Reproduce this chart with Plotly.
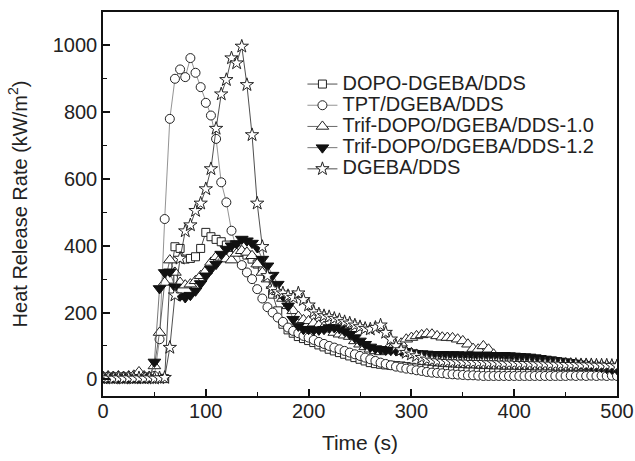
import plotly.graph_objects as go

time_s = list(range(0, 505, 5))

dopo_dgeba = [
    2, 3, 2, 3, 2, 3, 2, 3, 2, 3,
    2, 3, 2, 300, 397, 392, 360, 362, 367, 392,
    440, 427, 419, 412, 402, 395, 388, 380, 372, 360,
    345, 330, 305, 255, 205, 165, 148, 138, 128, 122,
    116, 110, 103, 97, 90, 85, 80, 75, 70, 65,
    60, 55, 50, 47, 45, 43, 42, 41, 40, 38,
    36, 34, 32, 31, 30, 28, 27, 26, 25, 24,
    23, 22, 22, 21, 20, 20, 19, 19, 18, 18,
    18, 17, 17, 17, 16, 16, 16, 16, 15, 15,
    15, 15, 15, 15, 15, 15, 15, 15, 15, 15,
    15]

tpt_dgeba = [
    8, 7, 8, 7, 8, 7, 8, 7, 8, 7,
    10, 120, 480, 780, 900, 928, 905, 962, 918, 875,
    828, 790, 720, 590, 530, 445, 390, 342, 320, 300,
    270, 242, 216, 200, 185, 172, 155, 145, 138, 130,
    125, 118, 112, 106, 100, 95, 90, 85, 80, 75,
    70, 65, 60, 55, 50, 46, 42, 38, 35, 32,
    30, 27, 25, 22, 20, 19, 18, 16, 15, 14,
    13, 12, 12, 11, 10, 10, 10, 10, 10, 10,
    10, 10, 10, 10, 10, 10, 10, 10, 10, 10,
    10, 11, 10, 11, 10, 11, 10, 11, 10, 11,
    10]

trif_10 = [
    8, 10, 8, 10, 8, 10, 12, 22, 10, 8,
    40, 140, 290, 357, 320, 290, 282, 285, 295, 310,
    325, 350, 367, 365, 360, 357, 377, 385, 380, 370,
    345, 320, 300, 280, 262, 242, 220, 205, 188, 178,
    175, 168, 162, 158, 150, 140, 135, 132, 128, 115,
    105, 97, 90, 85, 82, 85, 90, 95, 108, 120,
    125, 130, 133, 136, 135, 130, 126, 125, 124, 120,
    115, 105, 92, 90, 100, 90, 75, 65, 58, 55,
    52, 52, 51, 50, 50, 49, 49, 48, 48, 47,
    47, 46, 46, 45, 45, 44, 43, 42, 42, 41,
    40]

trif_12 = [
    5, 4, 5, 4, 5, 4, 5, 4, 5, 5,
    52, 272, 320, 322, 277, 250, 245, 252, 265, 287,
    310, 330, 345, 375, 390, 400, 407, 420, 415, 408,
    395, 360, 340, 312, 285, 250, 220, 180, 160, 150,
    150, 148, 148, 150, 155, 155, 152, 145, 135, 125,
    115, 105, 97, 92, 90, 88, 87, 86, 85, 84,
    80, 78, 77, 76, 75, 75, 75, 74, 74, 74,
    73, 73, 72, 72, 72, 72, 72, 72, 72, 71,
    70, 69, 68, 67, 65, 63, 61, 59, 57, 55,
    53, 51, 49, 46, 44, 41, 39, 36, 33, 31,
    30]

dgeba_dds = [
    3, 4, 3, 4, 3, 4, 3, 4, 3, 4,
    3, 4, 5, 95, 252, 362, 444, 462, 505, 527,
    570, 630, 751, 854, 897, 962, 947, 997, 882, 732,
    527, 397, 310, 270, 262, 258, 250, 245, 258, 238,
    222, 202, 195, 190, 187, 182, 178, 172, 168, 162,
    157, 152, 150, 155, 162, 140, 120, 100, 88, 80,
    75, 70, 65, 60, 57, 55, 54, 53, 52, 52,
    51, 51, 50, 50, 50, 49, 49, 49, 48, 48,
    48, 47, 47, 47, 46, 46, 46, 45, 45, 45,
    44, 44, 44, 43, 43, 43, 42, 42, 42, 41,
    40]

series_names = ["DOPO-DGEBA/DDS", "TPT/DGEBA/DDS", "Trif-DOPO/DGEBA/DDS-1.0",
                "Trif-DOPO/DGEBA/DDS-1.2", "DGEBA/DDS"]
series_values = [dopo_dgeba, tpt_dgeba, trif_10, trif_12, dgeba_dds]

styles = [
    dict(symbol="square", size=8, color="white", line=dict(color="#222", width=1)),
    dict(symbol="circle", size=9, color="white", line=dict(color="#222", width=1)),
    dict(symbol="triangle-up", size=11, color="white", line=dict(color="#222", width=1)),
    dict(symbol="triangle-down", size=11, color="#111", line=dict(color="#111", width=1)),
    dict(symbol="star", size=10, color="white", line=dict(color="#222", width=1)),
]
line_colors = ["#222", "#777", "#444", "#555", "#222"]

FONT = "Liberation Sans, Arial, Helvetica, sans-serif"

fig = go.Figure()
for name, vals, mk, lc in zip(series_names, series_values, styles, line_colors):
    fig.add_trace(go.Scatter(
        x=time_s, y=vals, mode="lines+markers",
        name='<span style="font-size:20px">' + name + '</span>',
        line=dict(color=lc, width=0.8),
        marker=mk,
    ))

axis_common = dict(
    showline=True, linecolor="#111", linewidth=1.5, mirror=True,
    ticks="inside", ticklen=7, tickwidth=1.5, tickcolor="#111",
    showgrid=False, zeroline=False, automargin=False,
    tickfont=dict(size=20, color="#222", family=FONT),
)

fig.update_xaxes(
    range=[0, 500], tickvals=[0, 100, 200, 300, 400, 500],
    minor=dict(ticks="inside", ticklen=4, tickwidth=1.2, tickcolor="#111", dtick=50, tick0=0),
    title=dict(text="Time (s)", font=dict(size=21, color="#222", family=FONT), standoff=15),
    ticklabelstandoff=-4,
    **axis_common,
)
fig.update_yaxes(
    range=[-50, 1100], tickvals=[0, 200, 400, 600, 800, 1000],
    minor=dict(ticks="inside", ticklen=4, tickwidth=1.2, tickcolor="#111", dtick=100, tick0=0),
    title=dict(text="Heat Release Rate (kW/m<sup>2</sup>)", font=dict(size=20, color="#222", family=FONT), standoff=20),
    **axis_common,
)

fig.update_layout(
    width=635, height=461,
    margin=dict(l=103, r=18, t=12, b=65),
    paper_bgcolor="white", plot_bgcolor="white",
    font=dict(family=FONT, color="#222"),
    legend=dict(
        x=0.388, y=0.853, xanchor="left", yanchor="top",
        bgcolor="rgba(0,0,0,0)", borderwidth=0,
        font=dict(size=14, color="#222", family=FONT),
        itemsizing="trace",
    ),
    showlegend=True,
)

fig.write_html("out.html", config={"displayModeBar": False},
               post_script="document.body.style.margin='0';")
